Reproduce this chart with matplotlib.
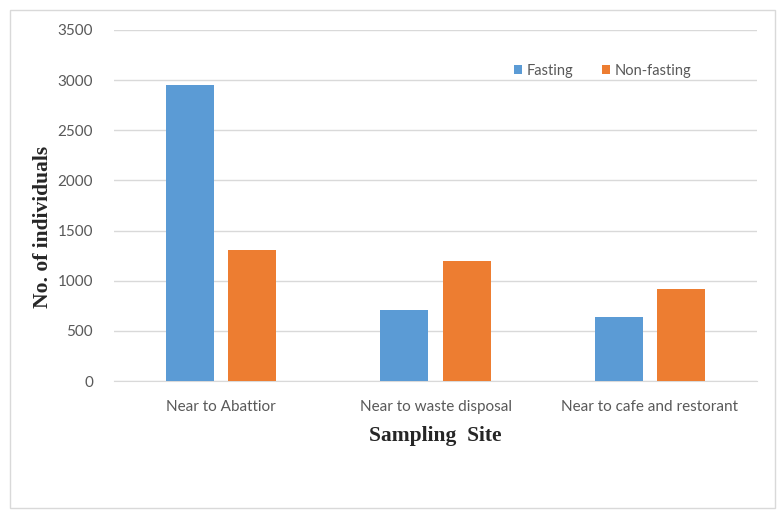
import numpy as np
import matplotlib.pyplot as plt
from matplotlib.patches import Rectangle

# data
SITES = ["Near to Abattior", "Near to waste disposal", "Near to cafe and restorant"]
FASTING = [2950, 710, 640]
NON_FASTING = [1310, 1200, 920]
Y_TICKS = [0, 500, 1000, 1500, 2000, 2500, 3000, 3500]

BLUE = "#5B9BD5"
ORANGE = "#ED7D31"
GRID = "#D9D9D9"
TEXT = "#595959"

BAR_W = 0.224
OFFSET = 0.145

fig = plt.figure(figsize=(7.84, 5.16), dpi=100)
ax = fig.add_axes([0.1454, 0.2616, 0.8202, 0.6803])

x = np.arange(len(SITES))
ax.bar(x - OFFSET, FASTING, BAR_W, color=BLUE, label="Fasting", zorder=3)
ax.bar(x + OFFSET, NON_FASTING, BAR_W, color=ORANGE, label="Non-fasting", zorder=3)

ax.set_xlim(-0.5, len(SITES) - 0.5)
ax.set_ylim(0, 3500)
ax.set_yticks(Y_TICKS)
ax.set_xticks(x)
ax.set_xticklabels(SITES, family="Lato", fontsize=11, color=TEXT)
for lab in ax.get_yticklabels():
    lab.set_family("Lato")
    lab.set_fontsize(11)
    lab.set_color(TEXT)

ax.grid(axis="y", color=GRID, linewidth=1, zorder=0)
for s in ["top", "right", "left"]:
    ax.spines[s].set_visible(False)
ax.spines["bottom"].set_color(GRID)
ax.tick_params(axis="both", length=0)
ax.tick_params(axis="x", pad=14)
ax.tick_params(axis="y", pad=15)

ax.set_ylabel("No. of individuals", family="Liberation Serif", fontweight="bold",
              fontsize=15.5, color="#262626")
ax.yaxis.set_label_coords(-0.095, 0.44)
ax.set_xlabel("Sampling  Site", family="Liberation Serif", fontweight="bold",
              fontsize=15.5, color="#262626", labelpad=8)

leg = ax.legend(loc="center", bbox_to_anchor=(0.76, 0.883), ncol=2, frameon=False,
                prop={"family": "Lato", "size": 10.5}, handlelength=0.55, handleheight=0.55,
                handletextpad=0.3, columnspacing=2.0)
for t in leg.get_texts():
    t.set_color(TEXT)

# outer chart border
fig.patches.append(Rectangle((10 / 784, 8 / 516), 765 / 784, 498 / 516,
                             transform=fig.transFigure, fill=False,
                             edgecolor=GRID, linewidth=1))

fig.savefig("out.png", dpi=100)
